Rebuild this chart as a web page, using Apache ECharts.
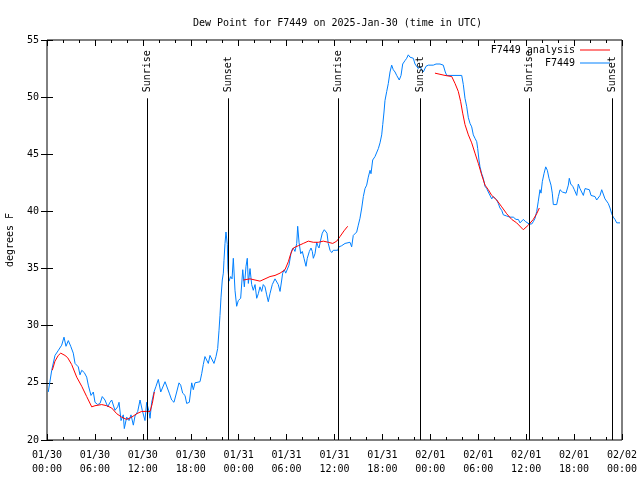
<!DOCTYPE html>
<html>
<head>
<meta charset="utf-8">
<script src="https://cdn.jsdelivr.net/npm/echarts@6/dist/echarts.min.js"></script>
<style>html,body{margin:0;padding:0;background:#fff}#c{width:640px;height:480px}</style>
</head>
<body>
<div id="c"></div>
<script>
// Observed dew point (hours since 01/30 00:00 UTC, degrees F)
const obsHours = [0.16,0.59,1.0,1.38,1.84,2.13,2.38,2.67,2.97,3.29,3.51,3.92,4.13,4.35,4.67,4.97,5.17,5.51,5.80,6.01,6.35,6.64,6.92,7.26,7.60,7.89,8.10,8.51,8.85,9.02,9.27,9.55,9.68,9.98,10.27,10.52,10.81,11.02,11.36,11.65,11.93,12.27,12.48,12.77,12.90,13.11,13.40,13.65,13.94,14.24,14.49,14.78,14.99,15.31,15.61,15.90,16.24,16.53,16.74,16.99,17.28,17.49,17.82,18.12,18.32,18.53,18.75,19.16,19.37,19.57,19.78,20.0,20.20,20.41,20.62,20.91,21.16,21.37,21.54,21.66,21.79,21.95,22.08,22.16,22.29,22.41,22.58,22.66,22.79,23.0,23.17,23.33,23.54,23.75,23.95,24.25,24.51,24.71,24.92,25.08,25.21,25.42,25.63,25.83,26.05,26.26,26.46,26.67,26.88,27.08,27.30,27.51,27.71,27.92,28.21,28.55,28.76,28.96,29.18,29.39,29.51,29.71,29.89,30.14,30.30,30.52,30.64,30.84,31.05,31.27,31.39,31.56,31.77,31.97,32.18,32.43,32.59,32.85,33.06,33.22,33.35,33.56,33.77,33.90,34.06,34.27,34.47,34.72,34.90,35.06,35.22,35.44,35.65,35.85,36.06,36.40,36.56,36.90,37.32,37.94,38.15,38.35,38.78,38.98,39.19,39.41,39.61,39.82,40.03,40.23,40.45,40.57,40.78,41.07,41.29,41.49,41.70,41.91,42.04,42.20,42.32,42.54,42.74,42.95,43.16,43.36,43.58,43.79,43.99,44.11,44.33,44.54,44.83,45.04,45.24,45.45,45.67,45.87,46.08,46.29,46.49,46.71,46.92,47.12,47.46,47.75,48.37,48.71,49.21,49.62,49.87,50.05,51.93,52.13,52.34,52.55,52.76,52.97,53.18,53.38,53.59,53.81,53.93,54.09,54.22,54.43,54.63,54.85,55.06,55.26,55.47,55.69,55.89,56.10,56.31,56.51,56.72,56.94,57.14,57.56,57.98,58.19,58.39,58.73,59.02,59.23,59.44,59.64,59.94,60.14,60.39,60.69,60.89,61.11,61.32,61.52,61.73,61.86,62.02,62.23,62.45,62.65,62.86,63.11,63.27,63.40,63.82,64.03,64.24,64.53,64.74,64.99,65.28,65.40,65.58,65.83,66.03,66.33,66.53,66.74,66.95,67.16,67.37,67.58,67.91,68.12,68.33,68.62,68.83,69.03,69.25,69.46,69.66,69.87,70.08,70.28,70.50,70.71,70.91,71.12,71.34,71.75];
const obsDew = [24.2,26.1,27.4,27.8,28.3,29.0,28.2,28.7,28.2,27.6,26.7,26.4,25.7,26.1,25.9,25.5,24.8,23.9,24.2,23.3,23.1,23.2,23.8,23.5,22.9,23.3,23.5,22.6,22.9,23.3,21.7,22.2,21.0,22.0,21.7,22.2,21.3,22.1,22.5,23.5,22.6,21.7,23.3,22.5,21.9,23.3,24.2,24.7,25.3,24.2,24.2,25.1,25.0,24.1,23.5,23.3,24.2,25.0,24.8,24.1,23.9,23.2,23.3,25.0,24.4,25.0,25.0,25.1,25.8,26.6,27.3,27.4,26.7,27.4,27.4,26.7,27.3,28.0,29.6,30.9,32.5,34.0,34.6,35.7,37.2,38.2,37.1,34.9,33.9,34.3,34.1,35.9,33.1,31.7,32.2,32.4,34.9,33.4,35.2,35.9,33.7,35.0,33.6,33.1,33.6,32.4,32.8,33.4,33.0,33.6,33.4,32.7,32.1,32.8,33.6,34.1,34.0,33.6,33.0,34.0,34.6,34.9,34.6,34.7,35.3,36.2,36.6,36.8,36.5,37.2,38.7,37.3,36.3,36.5,35.9,35.2,35.9,36.5,36.8,36.5,35.9,36.3,37.3,37.0,36.8,37.5,38.1,38.4,38.5,38.1,37.2,36.6,36.4,36.6,36.6,36.6,36.9,37.0,37.2,37.3,36.9,37.9,38.2,38.8,39.4,40.3,41.3,42.0,42.3,43.0,43.6,43.3,44.5,44.8,44.9,45.5,46.0,46.7,47.6,48.7,49.7,50.5,51.2,52.2,52.8,52.4,52.2,51.9,51.8,51.5,51.9,52.9,53.2,53.4,53.7,53.5,53.4,53.4,52.9,52.8,52.5,52.7,52.4,52.2,52.7,52.8,52.8,52.9,52.9,52.8,52.2,51.9,51.9,51.1,49.9,49.2,48.2,47.7,47.4,46.7,46.4,46.1,45.5,44.5,43.9,43.3,42.9,42.2,42.0,41.7,41.6,41.1,41.3,41.3,41.0,40.7,40.3,40.1,39.7,39.6,39.5,39.4,39.5,39.3,39.3,39.0,39.1,39.3,39.1,39.0,38.9,38.9,39.1,39.4,40.0,40.9,41.9,41.6,42.6,43.3,43.9,43.6,42.9,42.3,41.6,40.6,40.6,41.3,41.9,41.7,41.6,41.6,42.3,42.9,42.4,42.2,41.9,41.4,42.4,42.0,41.7,41.4,42.0,41.9,41.9,41.4,41.4,41.3,41.0,41.0,41.4,41.9,41.9,41.1,41.0,40.7,40.3,39.8,39.5,39.3,39.0,39.0];

// Analysis dew point (null = gap between analysis segments)
const anaHours = [0.66,1.0,1.41,1.72,2.25,2.59,3.09,3.72,4.35,4.97,5.60,6.01,6.85,7.48,8.10,8.73,9.35,9.98,10.61,11.23,11.86,12.48,12.90,13.19,13.44,
  18.0,
  24.58,25.42,26.05,26.67,27.30,27.92,28.55,29.18,29.80,30.22,30.52,30.84,31.47,32.09,32.72,33.35,33.97,34.60,35.22,35.78,36.28,36.69,37.19,37.65,
  43.0,
  48.58,49.21,49.84,50.68,51.09,51.50,51.80,52.05,52.34,52.76,53.18,53.59,54.01,54.43,54.85,55.26,55.69,56.31,56.94,57.56,58.19,58.81,59.64,60.27,60.89,61.32,61.65];
const anaDew = [26.1,26.9,27.4,27.6,27.4,27.2,26.6,25.5,24.7,23.8,22.9,23.0,23.1,23.0,22.8,22.3,22.0,21.8,22.0,22.3,22.5,22.5,22.5,23.2,24.2,
  null,
  34.0,34.1,34.0,33.9,34.1,34.3,34.4,34.6,34.9,35.6,36.3,36.8,37.0,37.2,37.4,37.3,37.3,37.4,37.3,37.2,37.4,37.8,38.3,38.7,
  null,
  52.1,52.0,51.9,51.8,51.2,50.5,49.6,48.6,47.6,46.7,46.0,45.1,44.2,43.2,42.3,41.9,41.4,41.0,40.4,39.8,39.3,39.0,38.4,38.8,39.3,39.8,40.3];

// Sunrise / sunset times (hours)
const sunHours = [12.46, 22.68, 36.46, 46.71, 60.38, 70.78];
const sunLabels = ['Sunrise', 'Sunset', 'Sunrise', 'Sunset', 'Sunrise', 'Sunset'];

// X tick labels every 6 hours
const xTickLabels = ['01/30\n00:00','01/30\n06:00','01/30\n12:00','01/30\n18:00','01/31\n00:00','01/31\n06:00','01/31\n12:00','01/31\n18:00','02/01\n00:00','02/01\n06:00','02/01\n12:00','02/01\n18:00','02/02\n00:00'];

const FONT = '"DejaVu Sans Mono", "Liberation Mono", monospace';
const obsData = obsHours.map((h, i) => [h, obsDew[i]]);
const anaData = anaHours.map((h, i) => [h, anaDew[i] === null ? '-' : anaDew[i]]);
const sunData = sunHours.map((h, i) => [h, 20]);
const SUN_TOP = 49.9;

const chart = echarts.init(document.getElementById('c'), null, {renderer: 'canvas'});
const tickStyle = {show: true, inside: true, length: 6, lineStyle: {color: '#000', width: 1}};
const minorStyle = {show: true, splitNumber: 3, length: 3, lineStyle: {color: '#000', width: 1}};
chart.setOption({
  animation: false,
  backgroundColor: '#fff',
  title: {
    text: 'Dew Point for F7449 on 2025-Jan-30 (time in UTC)',
    left: 188, top: 13,
    textStyle: {fontFamily: FONT, fontSize: 10, fontWeight: 'normal', color: '#000'}
  },
  legend: {
    orient: 'vertical', right: 25, top: 39, align: 'right',
    icon: 'rect', itemWidth: 30, itemHeight: 1, itemGap: 1,
    data: ['F7449 analysis', 'F7449'],
    textStyle: {fontFamily: FONT, fontSize: 10, color: '#000', lineHeight: 12}
  },
  grid: {left: 47, right: 18, top: 40, bottom: 40, show: true, borderColor: '#000', borderWidth: 1, outerBoundsMode: 'none'},
  xAxis: [{
    type: 'value', min: 0, max: 72, interval: 6,
    axisLine: {show: false},
    axisTick: tickStyle,
    minorTick: minorStyle,
    splitLine: {show: false},
    axisLabel: {
      margin: 8, fontFamily: FONT, fontSize: 10, color: '#000', lineHeight: 14,
      formatter: v => xTickLabels[Math.round(v / 6)] || ''
    }
  }, {
    type: 'value', min: 0, max: 72, interval: 6, position: 'top',
    axisLine: {show: false},
    axisTick: tickStyle,
    minorTick: minorStyle,
    splitLine: {show: false},
    axisLabel: {show: false}
  }],
  yAxis: [{
    type: 'value', min: 20, max: 55, interval: 5,
    name: 'degrees F', nameLocation: 'middle', nameGap: 32, nameRotate: 90,
    nameTextStyle: {fontFamily: FONT, fontSize: 10, color: '#000'},
    axisLine: {show: false},
    axisTick: tickStyle,
    splitLine: {show: false},
    axisLabel: {margin: 8, fontFamily: FONT, fontSize: 10, color: '#000'}
  }, {
    type: 'value', min: 20, max: 55, interval: 5, position: 'right',
    axisLine: {show: false},
    axisTick: tickStyle,
    splitLine: {show: false},
    axisLabel: {show: false}
  }],
  series: [{
    name: 'F7449 analysis', type: 'line', data: anaData,
    symbol: 'none', connectNulls: false,
    lineStyle: {color: '#ff0000', width: 1}, itemStyle: {color: '#ff0000'}, z: 3
  }, {
    name: 'F7449', type: 'line', data: obsData,
    symbol: 'none',
    lineStyle: {color: '#0080ff', width: 1}, itemStyle: {color: '#0080ff'}, z: 2
  }, {
    name: 'sun', type: 'custom', data: sunData, z: 4, silent: true,
    renderItem: function (params, api) {
      const h = api.value(0);
      const top = api.coord([h, SUN_TOP]);
      const bot = api.coord([h, 20]);
      const x = Math.round(top[0]) + 0.5;
      return {
        type: 'group',
        children: [{
          type: 'line',
          shape: {x1: x, y1: top[1], x2: x, y2: bot[1]},
          style: {stroke: '#000', lineWidth: 1}
        }, {
          type: 'text', x: x, y: top[1] - 6, rotation: Math.PI / 2,
          style: {text: sunLabels[params.dataIndex], fill: '#000', font: '10px ' + FONT, align: 'left', verticalAlign: 'middle'}
        }]
      };
    }
  }]
});
</script>
</body>
</html>
